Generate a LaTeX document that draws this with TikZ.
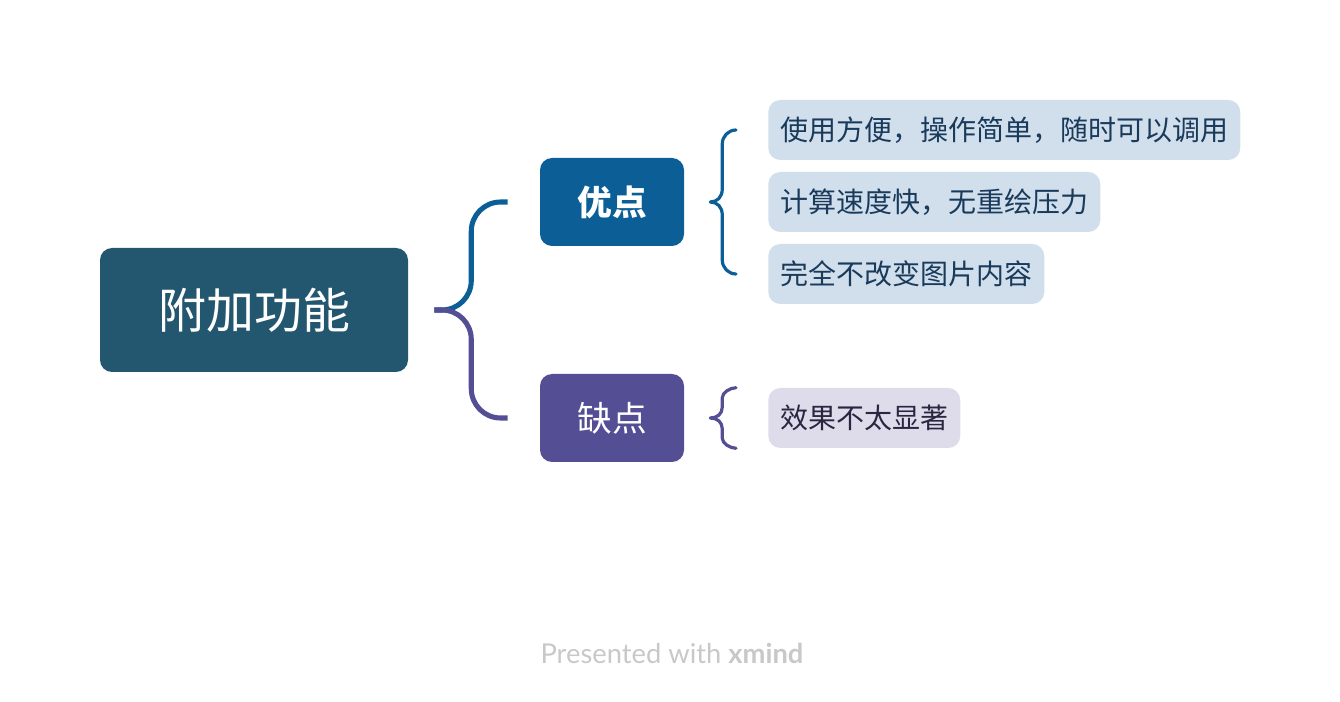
\documentclass[tikz,border=0pt]{standalone}
\usepackage{fontspec}
\setmainfont{Noto Sans CJK SC}
\newfontfamily\cjk{Noto Sans CJK SC}
\newfontfamily\foot{Lato}
\usetikzlibrary{calc}
\definecolor{rootc}{HTML}{23566F}
\definecolor{proc}{HTML}{0C5E97}
\definecolor{conc}{HTML}{544E94}
\definecolor{profill}{HTML}{D0DFEB}
\definecolor{protext}{HTML}{1A3A5C}
\definecolor{confill}{HTML}{DEDCEA}
\definecolor{context}{HTML}{2A2540}
\definecolor{footc}{HTML}{C8C8C8}
\tikzset{
  rootbox/.style={fill=rootc, text=white, rounded corners=9pt, minimum width=231pt,
    minimum height=93pt, inner sep=0pt, font=\cjk\fontsize{36}{40}\selectfont},
  mainbox/.style={fill=#1, text=white, rounded corners=9pt, minimum width=108pt,
    minimum height=66pt, inner sep=0pt},
  leafbox/.style={fill=#1, rounded corners=9pt, minimum height=45pt, inner xsep=9pt,
    inner ysep=0pt, anchor=west, font=\cjk\fontsize{21}{24}\selectfont},
  trunk/.style={draw=#1, line width=3.8pt, rounded corners=22pt},
  twig/.style={draw=#1, line width=2.4pt, line cap=round, line join=round}
}
\begin{document}
\begin{tikzpicture}[x=0.75pt, y=-0.75pt]
\useasboundingbox (0,0) rectangle (1340,702);
% central topic and the two main branches
\node[rootbox] (root) at (254,310) {附加功能};
\node[mainbox=proc, font=\cjk\bfseries\fontsize{26}{28}\selectfont] (pro) at (612,202) {优点};
\node[mainbox=conc, font=\cjk\fontsize{26}{28}\selectfont] (con) at (612,418) {缺点};
% leaf topics
\node[leafbox=profill, text=protext] (l1) at (768,130) {使用方便，操作简单，随时可以调用};
\node[leafbox=profill, text=protext] (l2) at (768,202) {计算速度快，无重绘压力};
\node[leafbox=profill, text=protext] (l3) at (768,274) {完全不改变图片内容};
\node[leafbox=confill, text=context] (l4) at (768,418) {效果不太显著};
% brace from the central topic to the main branches
\coordinate (tip) at ($(root.east)+(26,0)$);
\draw[trunk=proc] (tip) -- ++(37,0) |- ($(pro.west)+(-32,0)$);
\draw[trunk=conc] (tip) -- ++(37,0) |- ($(con.west)+(-32,0)$);
% brace from "优点" to its leaves
\draw[twig=proc] ($(l1.west)+(-32,0)$)
  .. controls +(-7.7,0) and +(0,-7.7) .. ($(pro.east |- l1.west)+(38,14)$)
  -- ($(pro.east)+(38,-13)$)
  .. controls +(0,8) and +(7,0) .. ($(pro.east)+(26,0)$)
  .. controls +(7,0) and +(0,-8) .. ($(pro.east)+(38,13)$)
  -- ($(pro.east |- l3.west)+(38,-14)$)
  .. controls +(0,7.7) and +(-7.7,0) .. ($(l3.west)+(-32,0)$);
% brace from "缺点" to its leaf
\draw[twig=conc] ($(l4.north west)+(-32,0)$)
  .. controls +(-5.5,0) and +(0,-5.5) .. ($(con.east |- l4.north west)+(38,10)$)
  -- ($(con.east)+(38,-11)$)
  .. controls +(0,7) and +(7,0) .. ($(con.east)+(26,0)$)
  .. controls +(7,0) and +(0,-7) .. ($(con.east)+(38,11)$)
  -- ($(con.east |- l4.south west)+(38,-10)$)
  .. controls +(0,5.5) and +(-5.5,0) .. ($(l4.south west)+(-32,0)$);
% footer
\node[text=footc, font=\foot\fontsize{20.5}{22}\selectfont] (footer) at (672,653)
  {Presented with \textbf{xmind}};
\end{tikzpicture}
\end{document}
